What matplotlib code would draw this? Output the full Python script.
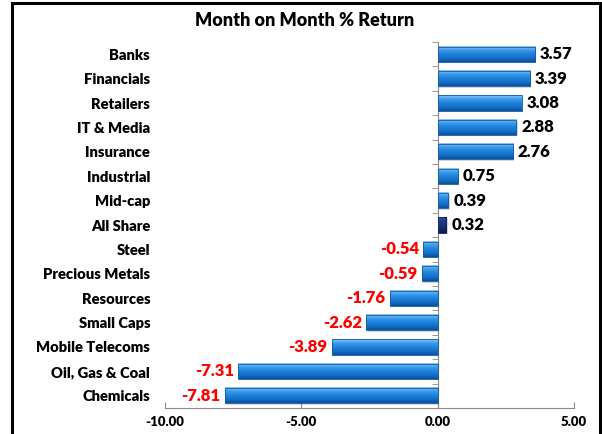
import numpy as np
import matplotlib
matplotlib.use("Agg")
import matplotlib.pyplot as plt
from matplotlib.colors import LinearSegmentedColormap
from matplotlib.patches import Rectangle

# data, top to bottom as in the chart
sectors = ["Banks", "Financials", "Retailers", "IT & Media", "Insurance",
           "Industrial", "Mid-cap", "All Share", "Steel", "Precious Metals",
           "Resources", "Small Caps", "Mobile Telecoms", "Oil, Gas & Coal",
           "Chemicals"]
returns = [3.57, 3.39, 3.08, 2.88, 2.76, 0.75, 0.39, 0.32, -0.54, -0.59,
           -1.76, -2.62, -3.89, -7.31, -7.81]
x_ticks = [-10, -5, 0, 5]

plt.rcParams['font.family'] = ['Lato', 'DejaVu Sans']
W = 'heavy'

fig = plt.figure(figsize=(6.02, 4.34), dpi=100)
ax = fig.add_axes([165/602, 1 - 408/434, (574 - 165)/602, (408 - 42)/434])

# figure border
fig.patches.append(Rectangle((12/602, -0.05), (600 - 12)/602, 1 - 3/434 + 0.05,
                             transform=fig.transFigure, fill=False,
                             edgecolor='black', linewidth=2.2))

blue = LinearSegmentedColormap.from_list("b", ["#0b4f9a", "#1470c8", "#1e82dc", "#3d9be8", "#8cc6f5"])
navy = LinearSegmentedColormap.from_list("n", ["#0a1f4f", "#122d6b", "#1a3a80", "#2d4f96"])

n = len(sectors)
ypos = np.arange(n)[::-1]
h = 0.62
grad = np.linspace(0, 1, 50).reshape(-1, 1)

for y, v, name in zip(ypos, returns, sectors):
    cmap = navy if name == "All Share" else blue
    x0, x1 = min(0, v), max(0, v)
    # soft shadow
    ax.add_patch(Rectangle((x0 + 0.05, y - h/2 - 0.06), x1 - x0, h,
                           facecolor='#bbbbbb', edgecolor='none', alpha=0.6, zorder=1))
    ax.imshow(grad, cmap=cmap, aspect='auto', origin='lower',
              extent=(x0, x1, y - h/2, y + h/2), zorder=2)
    ax.add_patch(Rectangle((x0, y - h/2), x1 - x0, h, fill=False,
                           edgecolor='#0d5aa8' if name != "All Share" else '#0a1f4f',
                           linewidth=0.6, zorder=3))
    if v >= 0:
        ax.text(v + 0.18, y, f"{v:.2f}", ha='left', va='center',
                fontsize=12, fontweight=W, color='black', zorder=4)
    else:
        ax.text(v - 0.15, y, f"{v:.2f}", ha='right', va='center',
                fontsize=12, fontweight=W, color='#ff0000', zorder=4)

ax.set_xlim(-10, 5)
ax.set_ylim(-0.5, n - 0.5)
ax.set_xticks(x_ticks)
ax.set_xticklabels([f"{t:.2f}" for t in x_ticks], fontsize=9.5, fontweight=W)
ax.tick_params(axis='x', direction='in', length=4, color='#888888', pad=6)

ax.spines['left'].set_position(('data', 0))
for s in ['top', 'right']:
    ax.spines[s].set_visible(False)
ax.spines['left'].set_color('#888888')
ax.spines['bottom'].set_color('#888888')

ax.set_yticks(ypos)
ax.set_yticklabels(sectors, fontsize=10.6, fontweight=W)
ax.set_yticks(np.arange(n + 1) - 0.5, minor=True)
ax.tick_params(axis='y', which='major', length=0, pad=207)
ax.tick_params(axis='y', which='minor', direction='out', length=4, color='#888888')

fig.text(305/602, 1 - 20/434, "Month on Month % Return", ha='center', va='center',
         fontsize=13, fontweight=W)

fig.savefig("out.png", dpi=100)
